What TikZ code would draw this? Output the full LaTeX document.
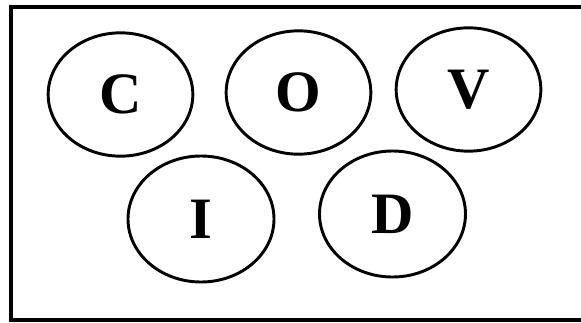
\documentclass[tikz,border=0pt]{standalone}
\usepackage{fontspec}
\setmainfont{Liberation Serif}
\usetikzlibrary{shapes.geometric}

\begin{document}
\begin{tikzpicture}[x=0.75pt, y=-0.75pt, font=\bfseries\fontsize{44}{44}\selectfont]
\tikzstyle{letter}=[draw, ellipse, line width=2.2pt, inner sep=0pt, minimum width=108.5pt, minimum height=92.5pt]
\tikzstyle{lower}=[letter, minimum width=109.5pt, minimum height=94.5pt]
\clip (0,0) rectangle (581,322);
\draw[line width=3pt] (10.5,7) rectangle (600,320);
% top row
\node[letter] (c) at (120.5,94.5) {C};
\node[letter] (o) at (298.5,92.5) {O};
\node[letter] (v) at (468.5,89.5) {V};
% bottom row
\node[lower] (i) at (201,219) {I};
\node[lower] (d) at (392.5,214) {D};
\end{tikzpicture}
\end{document}
